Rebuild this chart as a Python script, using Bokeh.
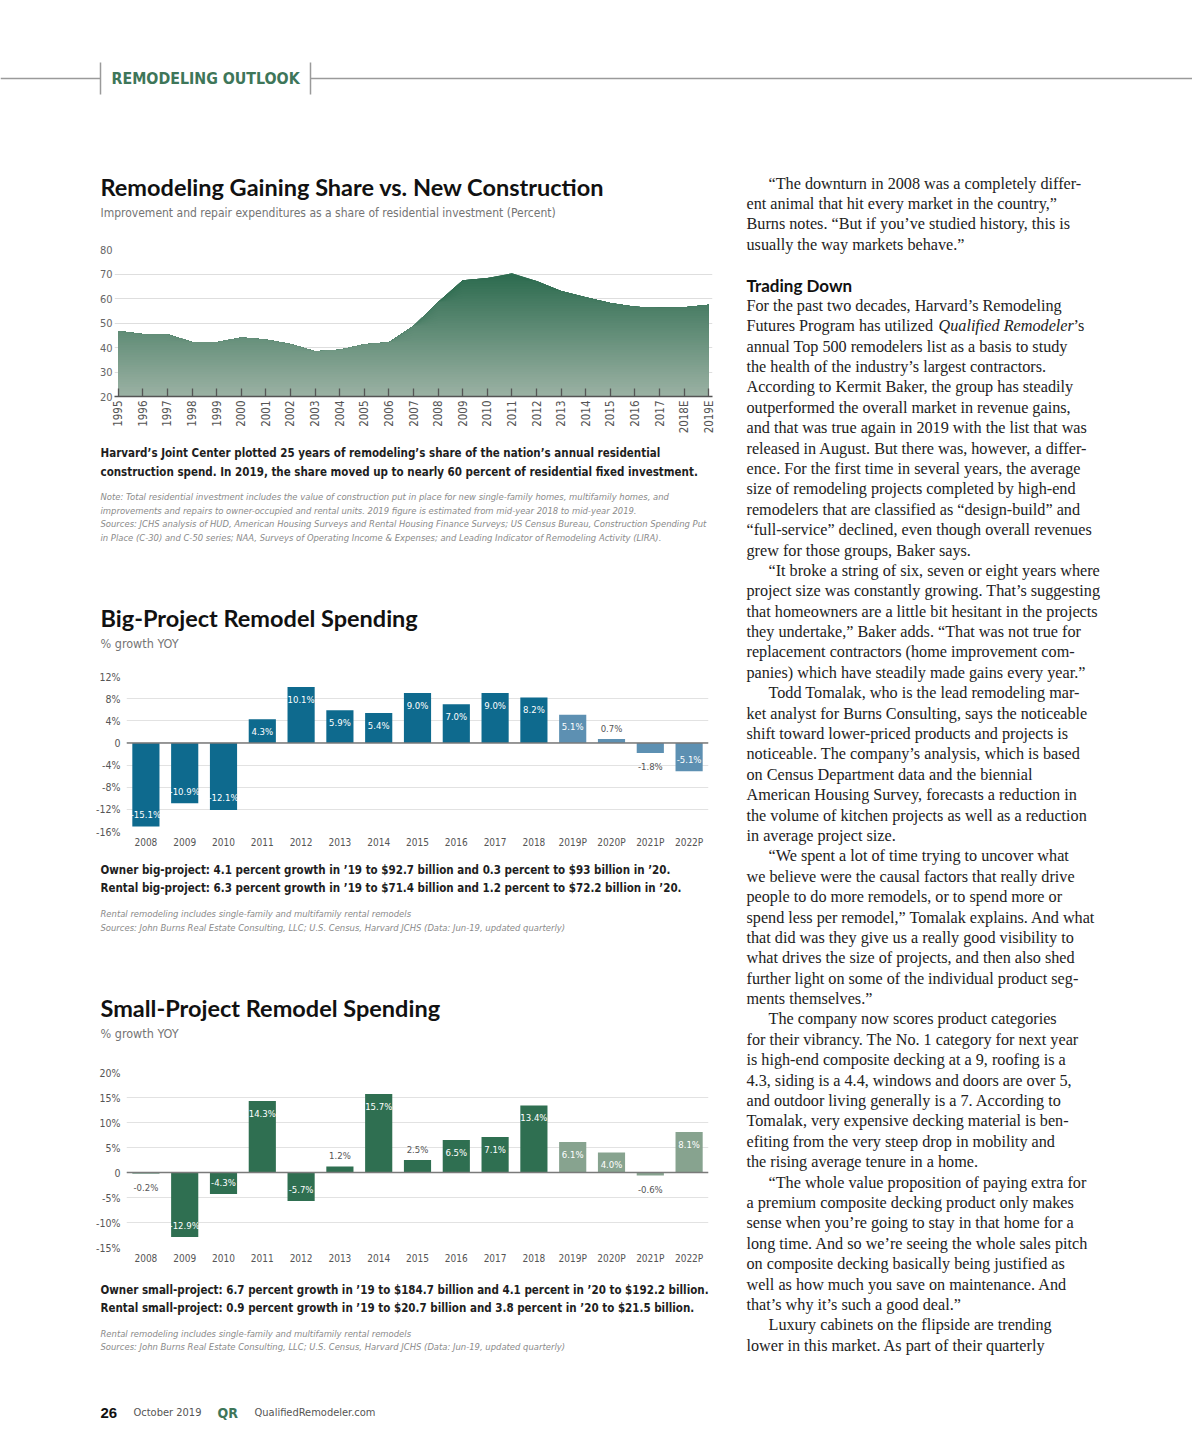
import numpy as np
from bokeh.plotting import figure
from bokeh.layouts import column, row
from bokeh.models import Range1d, FactorRange, ColumnDataSource, Span, FixedTicker
from bokeh.core.properties import value
from bokeh.embed import file_html
from bokeh.resources import INLINE

# ---------------- data ----------------
share_years = ["1995", "1996", "1997", "1998", "1999", "2000", "2001", "2002", "2003",
               "2004", "2005", "2006", "2007", "2008", "2009", "2010", "2011", "2012",
               "2013", "2014", "2015", "2016", "2017", "2018E", "2019E"]
share_values = [46.7, 45.5, 45.4, 42.2, 42.1, 44.1, 43.3, 41.4, 38.5, 39.1, 41.3, 42.1,
                48.8, 58.6, 67.5, 68.4, 70.3, 67.1, 63.1, 60.5, 58.2, 56.6, 56.2, 56.4, 57.5]
share_ticks = [20, 30, 40, 50, 60, 70, 80]

bar_years = ["2008", "2009", "2010", "2011", "2012", "2013", "2014", "2015", "2016",
             "2017", "2018", "2019P", "2020P", "2021P", "2022P"]
big_values = [-15.1, -10.9, -12.1, 4.3, 10.1, 5.9, 5.4, 9.0, 7.0, 9.0, 8.2, 5.1, 0.7, -1.8, -5.1]
big_ticks = [-16, -12, -8, -4, 0, 4, 8, 12]
big_tick_labels = ["-16%", "-12%", "-8%", "-4%", "0", "4%", "8%", "12%"]

small_values = [-0.2, -12.9, -4.3, 14.3, -5.7, 1.2, 15.7, 2.5, 6.5, 7.1, 13.4, 6.1, 4.0, -0.6, 8.1]
small_ticks = [-15, -10, -5, 0, 5, 10, 15, 20]
small_tick_labels = ["-15%", "-10%", "-5%", "0", "5%", "10%", "15%", "20%"]

# ---------------- styles ----------------
NARROW = "DejaVu Sans Condensed"
TITLE = "Lato"
SERIF = "Liberation Serif"
GREEN = "#3e7659"


def canvas(x0, y0, w, h):
    p = figure(width=w, height=h, x_range=Range1d(x0, x0 + w), y_range=Range1d(y0 + h, y0),
               output_backend="svg", toolbar_location=None, min_border=0,
               x_axis_type=None, y_axis_type=None, outline_line_color=None,
               frame_align=False)
    return p


def txt(p, xs, ys, texts, size, color, font, style="normal", align="left", baseline="middle"):
    p.text(x=xs, y=ys, text=texts, text_font=value(font), text_font_size=f"{size}px",
           text_color=color, text_font_style=style, text_align=align, text_baseline=baseline)


# ---------------- header ----------------
H = canvas(0, 0, 1192, 160)
H.segment(x0=[0, 310], y0=[78, 78], x1=[100, 1192], y1=[78, 78], line_color="#9a9a9a", line_width=1.5)
H.segment(x0=[100, 310], y0=[62, 62], x1=[100, 310], y1=[94, 94], line_color="#9a9a9a", line_width=1.5)
txt(H, [111], [78], ["REMODELING OUTLOOK"], 15.8, GREEN, NARROW, "bold")

# ---------------- left column ----------------
T1 = canvas(0, 160, 730, 78)
txt(T1, [100], [186], ["Remodeling Gaining Share vs. New Construction"], 23.5, "#111111", TITLE, "bold")
txt(T1, [100], [212], ["Improvement and repair expenditures as a share of residential investment (Percent)"],
    12, "#747474", NARROW)

# chart 1: area with vertical gradient
C1 = figure(width=730, height=198, x_range=Range1d(-0.15, 24.15), y_range=Range1d(20, 80),
            min_border_left=114, min_border_right=18, min_border_top=11, min_border_bottom=40,
            output_backend="svg", toolbar_location=None, outline_line_color=None,
            frame_align=False)
xs = np.arange(len(share_values))
vals = np.array(share_values)
top_c = np.array([0x2e, 0x6c, 0x50])
bot_c = np.array([0x9d, 0xb3, 0xa5])
for L in np.arange(72.0, 19.9, -1.0):
    t = min(max((L - 20) / 50.0, 0), 1)
    c = (bot_c + (top_c - bot_c) * t).astype(int)
    C1.varea(x=xs, y1=np.full(len(xs), 20.0), y2=np.minimum(vals, L),
             fill_color="#%02x%02x%02x" % tuple(c), fill_alpha=1.0)
C1.xaxis.ticker = FixedTicker(ticks=list(range(len(share_years))))
C1.xaxis.major_label_overrides = {i: y for i, y in enumerate(share_years)}
C1.xaxis.major_label_orientation = np.pi / 2
C1.xaxis.major_tick_in = 8
C1.xaxis.major_tick_out = 0
C1.xaxis.major_tick_line_color = "#555555"
C1.xaxis.major_tick_line_width = 1.3
C1.xaxis.axis_line_color = "#555555"
C1.xaxis.axis_line_width = 1.5
C1.xaxis.minor_tick_line_color = None
C1.xaxis.major_label_standoff = 4
C1.xaxis.major_label_text_font = NARROW
C1.xaxis.major_label_text_font_size = "11.5px"
C1.xaxis.major_label_text_color = "#555555"
C1.yaxis.ticker = FixedTicker(ticks=share_ticks)
C1.yaxis.axis_line_color = None
C1.yaxis.major_tick_line_color = None
C1.yaxis.major_tick_out = 0
C1.yaxis.minor_tick_line_color = None
C1.yaxis.major_label_standoff = 2
C1.yaxis.major_label_text_font = NARROW
C1.yaxis.major_label_text_font_size = "11px"
C1.yaxis.major_label_text_color = "#666666"
C1.xgrid.visible = False
C1.ygrid.grid_line_color = "#dedede"

N1 = canvas(0, 436, 730, 220)
txt(N1, [100, 100], [452, 471],
    ["Harvard’s Joint Center plotted 25 years of remodeling’s share of the nation’s annual residential",
     "construction spend. In 2019, the share moved up to nearly 60 percent of residential fixed investment."],
    11.5, "#1e1e1e", NARROW, "bold")
txt(N1, [100] * 4, [496, 509.5, 523, 536.5],
    ["Note: Total residential investment includes the value of construction put in place for new single-family homes, multifamily homes, and",
     "improvements and repairs to owner-occupied and rental units. 2019 figure is estimated from mid-year 2018 to mid-year 2019.",
     "Sources: JCHS analysis of HUD, American Housing Surveys and Rental Housing Finance Surveys; US Census Bureau, Construction Spending Put",
     "in Place (C-30) and C-50 series; NAA, Surveys of Operating Income & Expenses; and Leading Indicator of Remodeling Activity (LIRA)."],
    9.4, "#8a8a8a", NARROW, "italic")
txt(N1, [100], [617], ["Big-Project Remodel Spending"], 23.5, "#111111", TITLE, "bold")
txt(N1, [100], [643], ["% growth YOY"], 12.5, "#747474", NARROW)


def bar_chart(height, frame_h, cats, vals, ticks, tick_labels, dark, light, ymin, ymax):
    p = figure(width=730, height=height, x_range=FactorRange(*cats), y_range=Range1d(ymin, ymax),
               min_border_left=126, min_border_right=22, min_border_top=20,
               min_border_bottom=height - 20 - frame_h,
               output_backend="svg", toolbar_location=None, outline_line_color=None,
               frame_align=False)
    colors = [light if c.endswith("P") else dark for c in cats]
    labels = ["%.1f%%" % v for v in vals]
    inside = [abs(v) >= 3 for v in vals]
    offs, lcol = [], []
    for v, ins in zip(vals, inside):
        if ins:
            offs.append(12 if v > 0 else -12)
            lcol.append("white")
        else:
            offs.append(-11 if v > 0 else 14)
            lcol.append("#555555")
    src = ColumnDataSource(dict(x=cats, top=vals, color=colors, label=labels, off=offs, lc=lcol))
    p.vbar(x="x", top="top", bottom=0, width=0.7, fill_color="color", line_color=None, source=src)
    p.add_layout(Span(location=0, dimension="width", line_color="#7a7a7a", line_width=1.6))
    p.text(x="x", y="top", text="label", y_offset="off", text_color="lc", text_align="center",
           text_baseline="middle", text_font=value(NARROW), text_font_size="9.5px", source=src)
    p.yaxis.ticker = FixedTicker(ticks=ticks)
    p.yaxis.major_label_overrides = {t: l for t, l in zip(ticks, tick_labels)}
    p.yaxis.axis_line_color = None
    p.yaxis.major_tick_line_color = None
    p.yaxis.major_tick_out = 0
    p.yaxis.minor_tick_line_color = None
    p.yaxis.major_label_standoff = 6
    p.yaxis.major_label_text_font = NARROW
    p.yaxis.major_label_text_font_size = "10.5px"
    p.yaxis.major_label_text_color = "#555555"
    p.xaxis.axis_line_color = None
    p.xaxis.major_tick_line_color = None
    p.xaxis.major_tick_out = 0
    p.xaxis.minor_tick_line_color = None
    p.xaxis.major_label_standoff = 5
    p.xaxis.major_label_text_font = NARROW
    p.xaxis.major_label_text_font_size = "10px"
    p.xaxis.major_label_text_color = "#555555"
    p.xgrid.visible = False
    p.ygrid.grid_line_color = "#e2e2e2"
    return p


C2 = bar_chart(200, 155, bar_years, big_values, big_ticks, big_tick_labels,
               "#0e6a8e", "#5d90b2", -16, 12)

N2 = canvas(0, 856, 730, 196)
txt(N2, [100, 100], [869, 887],
    ["Owner big-project: 4.1 percent growth in ’19 to $92.7 billion and 0.3 percent to $93 billion in ’20.",
     "Rental big-project: 6.3 percent growth in ’19 to $71.4 billion and 1.2 percent to $72.2 billion in ’20."],
    11.5, "#1e1e1e", NARROW, "bold")
txt(N2, [100, 100], [913, 927],
    ["Rental remodeling includes single-family and multifamily rental remodels",
     "Sources: John Burns Real Estate Consulting, LLC; U.S. Census, Harvard JCHS (Data: Jun-19, updated quarterly)"],
    9.4, "#8a8a8a", NARROW, "italic")
txt(N2, [100], [1007], ["Small-Project Remodel Spending"], 23.5, "#111111", TITLE, "bold")
txt(N2, [100], [1033], ["% growth YOY"], 12.5, "#747474", NARROW)

C3 = bar_chart(220, 175, bar_years, small_values, small_ticks, small_tick_labels,
               "#2f6f51", "#87a38f", -15, 20)

N3 = canvas(0, 1272, 730, 118)
txt(N3, [100, 100], [1289, 1307],
    ["Owner small-project: 6.7 percent growth in ’19 to $184.7 billion and 4.1 percent in ’20 to $192.2 billion.",
     "Rental small-project: 0.9 percent growth in ’19 to $20.7 billion and 3.8 percent in ’20 to $21.5 billion."],
    11.5, "#1e1e1e", NARROW, "bold")
txt(N3, [100, 100], [1333, 1346],
    ["Rental remodeling includes single-family and multifamily rental remodels",
     "Sources: John Burns Real Estate Consulting, LLC; U.S. Census, Harvard JCHS (Data: Jun-19, updated quarterly)"],
    9.4, "#8a8a8a", NARROW, "italic")

left = column(T1, C1, N1, C2, N2, C3, N3)

# ---------------- right column text ----------------
R = canvas(730, 160, 462, 1230)
body_lines = [
    "\t“The downturn in 2008 was a completely differ-",
    "ent animal that hit every market in the country,”",
    "Burns notes. “But if you’ve studied history, this is",
    "usually the way markets behave.”",
    "",
    "#Trading Down",
    "For the past two decades, Harvard’s Remodeling",
    "@ITALIC",
    "annual Top 500 remodelers list as a basis to study",
    "the health of the industry’s largest contractors.",
    "According to Kermit Baker, the group has steadily",
    "outperformed the overall market in revenue gains,",
    "and that was true again in 2019 with the list that was",
    "released in August. But there was, however, a differ-",
    "ence. For the first time in several years, the average",
    "size of remodeling projects completed by high-end",
    "remodelers that are classified as “design-build” and",
    "“full-service” declined, even though overall revenues",
    "grew for those groups, Baker says.",
    "\t“It broke a string of six, seven or eight years where",
    "project size was constantly growing. That’s suggesting",
    "that homeowners are a little bit hesitant in the projects",
    "they undertake,” Baker adds. “That was not true for",
    "replacement contractors (home improvement com-",
    "panies) which have steadily made gains every year.”",
    "\tTodd Tomalak, who is the lead remodeling mar-",
    "ket analyst for Burns Consulting, says the noticeable",
    "shift toward lower-priced products and projects is",
    "noticeable. The company’s analysis, which is based",
    "on Census Department data and the biennial",
    "American Housing Survey, forecasts a reduction in",
    "the volume of kitchen projects as well as a reduction",
    "in average project size.",
    "\t“We spent a lot of time trying to uncover what",
    "we believe were the causal factors that really drive",
    "people to do more remodels, or to spend more or",
    "spend less per remodel,” Tomalak explains. And what",
    "that did was they give us a really good visibility to",
    "what drives the size of projects, and then also shed",
    "further light on some of the individual product seg-",
    "ments themselves.”",
    "\tThe company now scores product categories",
    "for their vibrancy. The No. 1 category for next year",
    "is high-end composite decking at a 9, roofing is a",
    "4.3, siding is a 4.4, windows and doors are over 5,",
    "and outdoor living generally is a 7. According to",
    "Tomalak, very expensive decking material is ben-",
    "efiting from the very steep drop in mobility and",
    "the rising average tenure in a home.",
    "\t“The whole value proposition of paying extra for",
    "a premium composite decking product only makes",
    "sense when you’re going to stay in that home for a",
    "long time. And so we’re seeing the whole sales pitch",
    "on composite decking basically being justified as",
    "well as how much you save on maintenance. And",
    "that’s why it’s such a good deal.”",
    "\tLuxury cabinets on the flipside are trending",
    "lower in this market. As part of their quarterly",
]
LH = 20.39
BODY = 16.2
nx, ny, nt = [], [], []
for i, line in enumerate(body_lines):
    y = 183 + i * LH
    if line == "":
        continue
    if line.startswith("#"):
        txt(R, [746], [y], [line[1:]], 17, "#111111", TITLE, "bold")
    elif line == "@ITALIC":
        txt(R, [746], [y], ["Futures Program has utilized "], BODY, "#222222", SERIF)
        txt(R, [938], [y], ["Qualified Remodeler"], BODY, "#222222", SERIF, "italic")
        txt(R, [1073], [y], ["’s"], BODY, "#222222", SERIF)
    elif line.startswith("\t"):
        nx.append(768); ny.append(y); nt.append(line[1:])
    else:
        nx.append(746); ny.append(y); nt.append(line)
txt(R, nx, ny, nt, BODY, "#222222", SERIF)

body = row(left, R)

# ---------------- footer ----------------
F = canvas(0, 1390, 1192, 52)
txt(F, [100], [1412], ["26"], 15, "#111111", "Liberation Sans", "bold")
txt(F, [133], [1412], ["October 2019"], 11, "#555555", NARROW)
txt(F, [217], [1412], ["QR"], 14, GREEN, NARROW, "bold")
txt(F, [254], [1412], ["QualifiedRemodeler.com"], 11, "#555555", NARROW)

page = column(H, body, F)
open("out.html", "w").write(file_html(page, INLINE, title="Remodeling Outlook"))
